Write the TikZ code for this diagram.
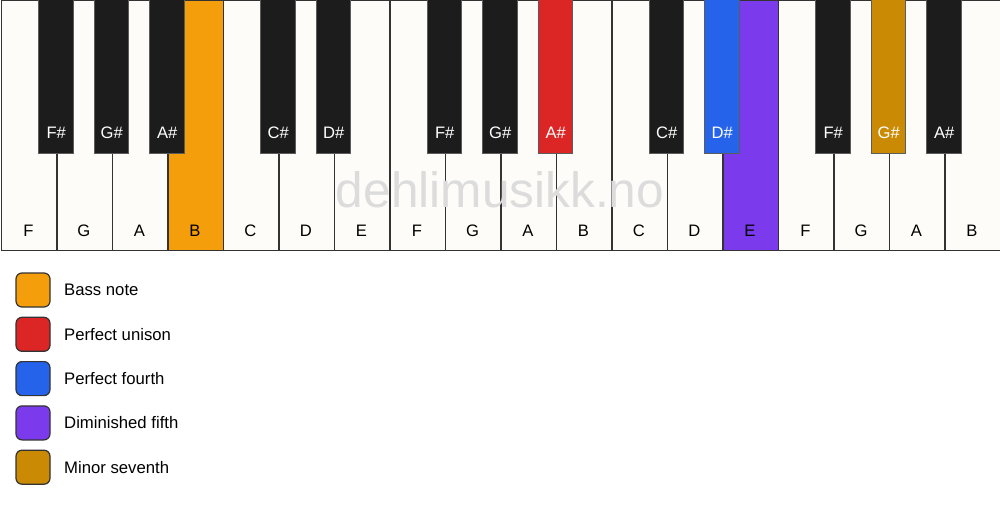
\documentclass[tikz,border=0pt]{standalone}
\usepackage{fontspec}
\setmainfont{Liberation Sans}
\definecolor{keywhite}{HTML}{FDFCF8}
\definecolor{keyblack}{HTML}{1C1C1C}
\definecolor{keyline}{HTML}{333333}
\definecolor{cbass}{HTML}{F59E0B}
\definecolor{cunison}{HTML}{DC2626}
\definecolor{cfourth}{HTML}{2563EB}
\definecolor{cdimfifth}{HTML}{7C3AED}
\definecolor{cminsev}{HTML}{CA8A04}
\definecolor{wmark}{HTML}{DCDCDC}
\tikzset{
  whitekey/.style={draw=keyline, line width=1.4pt, fill=keywhite},
  blackkey/.style={draw=keyline!80!white, line width=1pt, fill=keyblack},
  wlabel/.style={font=\fontsize{16.6}{19}\selectfont, text=black},
  blabel/.style={font=\fontsize{16.6}{19}\selectfont, text=white},
  legbox/.style={draw=keyline, line width=1.2pt, rounded corners=6pt, minimum width=34pt, minimum height=34pt, inner sep=0pt},
  legtext/.style={anchor=west, font=\fontsize{16.7}{19}\selectfont, text=black, inner sep=0pt},
}
\begin{document}
\begin{tikzpicture}[x=1pt, y=-1pt]
\useasboundingbox[fill=white] (0,0) rectangle (1000,506);
% white keys
\foreach \n/\i/\c in {F/0/keywhite, G/1/keywhite, A/2/keywhite, B/3/cbass, C/4/keywhite, D/5/keywhite, E/6/keywhite,
  F/7/keywhite, G/8/keywhite, A/9/keywhite, B/10/keywhite, C/11/keywhite, D/12/keywhite, E/13/cdimfifth,
  F/14/keywhite, G/15/keywhite, A/16/keywhite, B/17/keywhite}{
  \node[whitekey, fill=\c, minimum width=55.5pt, minimum height=250pt, inner sep=0pt, anchor=north west] (w\i) at ({0.7+55.5*\i},0) {};
  \node[wlabel] (wl\i) at ({0.7+55.5*\i+27.75},231) {\n};
}
% watermark
\node[anchor=base, text=wmark, font=\fontsize{49.6}{56}\selectfont, inner sep=0pt] (wm) at (500,207) {dehlimusikk.no};
% black keys
\foreach \n/\i/\c in {F\#/1/keyblack, G\#/2/keyblack, A\#/3/keyblack, C\#/5/keyblack, D\#/6/keyblack,
  F\#/8/keyblack, G\#/9/keyblack, A\#/10/cunison, C\#/12/keyblack, D\#/13/cfourth,
  F\#/15/keyblack, G\#/16/cminsev, A\#/17/keyblack}{
  \node[blackkey, fill=\c, minimum width=34.5pt, minimum height=154pt, inner sep=0pt, anchor=north] (b\i) at ({0.7+55.5*\i},-1) {};
  \node[blabel] (bl\i) at ({0.7+55.5*\i},133) {\n};
}
% legend
\foreach \t/\c/\k in {Bass note/cbass/0, Perfect unison/cunison/1, Perfect fourth/cfourth/2, Diminished fifth/cdimfifth/3, Minor seventh/cminsev/4}{
  \node[legbox, fill=\c] (lb\k) at (33,{290+44.3*\k}) {};
  \node[legtext] (lt\k) at (64,{290+44.3*\k}) {\t};
}
\end{tikzpicture}
\end{document}
